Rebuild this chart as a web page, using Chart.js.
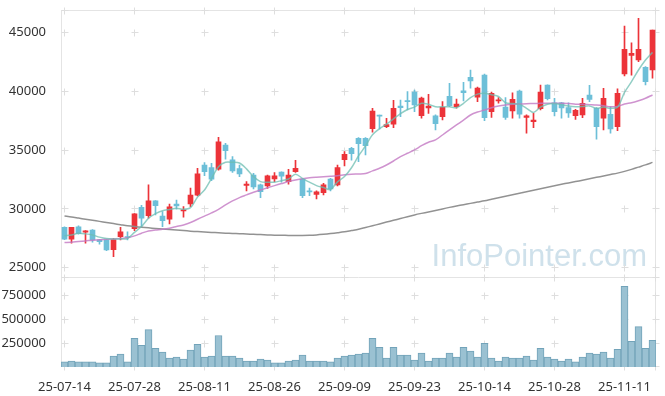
<!DOCTYPE html>
<html>
<head>
<meta charset="utf-8">
<script src="https://cdn.jsdelivr.net/npm/chart.js@4"></script>
<style>
  html, body { margin: 0; padding: 0; background: #fff; }
</style>
</head>
<body>
<canvas id="chart" width="665" height="396"></canvas>
<script>
// Daily candles with 5/20/120-day moving averages and volume underneath.

const dates = [
  "25-07-14","25-07-15","25-07-16","25-07-17","25-07-18","25-07-21","25-07-22","25-07-23","25-07-24","25-07-25",
  "25-07-28","25-07-29","25-07-30","25-07-31","25-08-01","25-08-04","25-08-05","25-08-06","25-08-07","25-08-08",
  "25-08-11","25-08-12","25-08-13","25-08-14","25-08-18","25-08-19","25-08-20","25-08-21","25-08-22","25-08-25",
  "25-08-26","25-08-27","25-08-28","25-08-29","25-09-01","25-09-02","25-09-03","25-09-04","25-09-05","25-09-08",
  "25-09-09","25-09-10","25-09-11","25-09-12","25-09-15","25-09-16","25-09-17","25-09-18","25-09-19","25-09-22",
  "25-09-23","25-09-24","25-09-25","25-09-26","25-09-29","25-09-30","25-10-01","25-10-02","25-10-10","25-10-13",
  "25-10-14","25-10-15","25-10-16","25-10-17","25-10-20","25-10-21","25-10-22","25-10-23","25-10-24","25-10-27",
  "25-10-28","25-10-29","25-10-30","25-10-31","25-11-03","25-11-04","25-11-05","25-11-06","25-11-07","25-11-10",
  "25-11-11","25-11-12","25-11-13","25-11-14","25-11-17"
];

const opens = [
  28440,27420,28470,28020,28210,27370,27370,26540,27650,27620,
  28330,30140,29430,30680,29400,29130,30420,29830,30420,31170,
  33730,33510,33370,35430,34160,33420,32000,32880,32040,31960,
  32540,33120,32320,33170,32540,31500,31220,31370,32540,32040,
  34180,35150,36000,36000,36820,37950,36990,37190,38740,39180,
  39930,37920,38570,37900,37830,39570,38680,40040,41170,39500,
  41370,38260,39180,38660,38320,40020,37780,37410,38510,40530,
  39020,39020,38600,37920,37980,39680,38550,37700,38040,36990,
  41460,43050,42650,42030,41800
];
const highs = [
  28480,28440,28560,28160,28250,27400,27400,27510,28440,28050,
  29600,30310,32040,30700,29770,30420,30760,30200,31760,33450,
  33930,33880,36090,35570,34440,33730,32320,33030,32100,32880,
  33080,33150,33370,34130,32600,31760,31530,32180,32600,33730,
  34860,35240,36050,36050,38550,37980,37700,39230,39250,39960,
  40100,39500,39740,38000,39110,40670,39340,40760,41800,40350,
  41460,39930,39450,39450,39870,40100,38000,38120,40530,40550,
  39400,39050,39020,38450,39400,40500,38600,40250,38680,40210,
  45530,44120,46190,42100,45200
];
const lows = [
  27380,27090,27850,27090,27170,27000,26460,25950,27370,27370,
  28160,28500,29210,29490,28500,28720,29970,29290,30200,31100,
  32820,32400,33300,34220,33100,32740,31530,31700,30960,31750,
  32320,32270,32100,33100,30960,31130,30850,31190,31530,31950,
  33650,34130,34010,34580,36510,36790,36900,36900,37830,38400,
  38260,37700,38120,36710,37550,38680,38550,39170,40250,39110,
  37500,37780,38990,37610,37700,37700,36430,36900,38400,39250,
  37890,37700,37780,37610,37750,39110,35920,36710,36430,36650,
  41290,41370,42500,40530,41100
];
const closes = [
  27420,28440,27900,28130,27370,27220,26520,27390,28050,27570,
  29580,29210,30680,30280,29000,30170,30250,29870,31170,32970,
  33170,32520,35690,34950,33220,32970,32110,31870,31470,32800,
  32800,32780,32880,33450,31130,31450,31440,32040,31700,33510,
  34640,34690,35540,35370,38320,37880,37160,38550,38600,39120,
  38830,39420,38740,37240,38630,38770,38910,39870,40870,40270,
  37750,39820,39260,37780,39310,38040,37900,37550,39930,39360,
  38260,38570,38150,38380,38970,39310,36990,39400,36790,39820,
  43560,43220,43560,40810,45200
];

// moving averages
const ma5 = [
  27710,27790,27930,27880,27790,27600,27480,27450,27450,27480,
  28000,28500,29200,29600,29850,29950,30060,29970,30110,31000,
  31610,32600,33590,33960,33960,33900,33400,32740,32320,32270,
  32270,32400,32540,32940,32600,32270,31980,31810,31650,32300,
  32750,33500,34500,35350,36300,36800,37200,37650,38100,38450,
  38650,38980,38890,38680,38680,38680,38600,38970,39450,39750,
  39820,39700,39550,39020,38950,38900,38550,38200,38650,38900,
  38950,38850,38740,38680,38700,38750,38550,38650,38550,38630,
  39900,40810,41800,42650,43300
];
const ma20 = [
  27140,27170,27230,27280,27340,27370,27420,27450,27480,27540,
  27710,27930,28130,28210,28270,28360,28500,28640,28840,29120,
  29390,29660,29960,30340,30680,30960,31190,31420,31600,31800,
  31980,32150,32320,32450,32560,32640,32690,32730,32770,32820,
  32900,32950,32970,33000,33230,33450,33730,34070,34440,34730,
  35010,35370,35660,35860,36280,36710,37130,37550,37980,38230,
  38400,38600,38740,38830,38890,38910,38940,38950,38970,38970,
  38970,38970,38950,38900,38890,38860,38830,38770,38680,38700,
  38910,39020,39190,39400,39680
];
const ma120 = [
  29400,29320,29220,29120,29030,28940,28840,28750,28660,28570,
  28500,28440,28390,28340,28290,28240,28200,28160,28110,28070,
  28040,28000,27970,27940,27920,27890,27870,27840,27820,27790,
  27770,27760,27750,27750,27750,27760,27790,27840,27900,27970,
  28050,28160,28270,28420,28570,28720,28880,29030,29180,29340,
  29490,29620,29740,29870,30000,30130,30250,30360,30470,30580,
  30690,30820,30950,31080,31200,31330,31460,31590,31710,31840,
  31970,32090,32210,32320,32440,32560,32680,32800,32920,33040,
  33190,33360,33550,33740,33950
];

const volumes = [
  52700,62900,52700,52700,52700,42500,42500,113900,134300,52700,
  297600,226200,389400,195600,154700,93500,103700,83300,175200,236400,
  103700,113900,328200,113900,113900,93500,62900,62900,83300,73100,
  42500,42500,62900,73100,124100,62900,62900,62900,52700,93500,
  113900,124100,134300,144500,297600,205800,93500,205800,124100,124100,
  73100,144500,62900,93500,93500,144500,103700,205800,164900,103700,
  246600,93500,62900,103700,93500,93500,113900,73100,195600,103700,
  83300,62900,83300,52700,103700,144500,134300,154700,93500,185400,
  841700,267000,420000,195600,277200
];

const xTickLabels = ["25-07-14","25-07-28","25-08-11","25-08-26","25-09-09","25-09-23","25-10-14","25-10-28","25-11-11"];
const priceTicks = [25000, 30000, 35000, 40000, 45000];
const volumeTicks = [250000, 500000, 750000];

const UP = "#ec3339";
const DOWN = "#6dbfd8";
const candleColors = opens.map((o, i) => (closes[i] >= o ? UP : DOWN));

Chart.defaults.font.family = '"Noto Sans", sans-serif';
Chart.defaults.color = "#333";

// faint "+" marks at tick crossings, panel frame and watermark
const decor = {
  id: "decor",
  beforeDatasetsDraw(chart) {
    const { ctx, chartArea: a, scales } = chart;
    const px = (v) => Math.round(v - 0.5) + 0.5;
    ctx.save();

    ctx.font = '31px "Liberation Sans", sans-serif';
    ctx.fillStyle = "rgba(160,195,215,0.5)";
    ctx.textAlign = "right";
    ctx.textBaseline = "alphabetic";
    ctx.fillText("InfoPointer.com", 647, 266);

    ctx.strokeStyle = "#e4e4e4";
    ctx.lineWidth = 1;
    const divider = px(scales.yv.top);
    ctx.strokeRect(px(a.left), px(a.top), px(a.right) - px(a.left) - 1, px(a.bottom) - px(a.top) - 1);
    ctx.beginPath();
    ctx.moveTo(a.left, divider);
    ctx.lineTo(a.right, divider);
    ctx.stroke();

    const xs = scales.x.ticks.map((t) => px(scales.x.getPixelForValue(t.value)));
    const rows = [
      ...priceTicks.map((v) => scales.y.getPixelForValue(v)),
      ...volumeTicks.map((v) => scales.yv.getPixelForValue(v)),
      a.top, scales.yv.top, a.bottom - 1,
    ].map(px);
    ctx.strokeStyle = "#dedede";
    ctx.beginPath();
    xs.concat([px(a.right) - 1]).forEach((x) => rows.forEach((y) => {
      ctx.moveTo(x - 3, y); ctx.lineTo(x + 4, y);
      ctx.moveTo(x, y - 3); ctx.lineTo(x, y + 4);
    }));
    ctx.stroke();
    ctx.restore();
  },
};

const yAxis = (extra) => Object.assign({
  type: "linear",
  position: "left",
  stack: "panes",
  grid: { display: false },
  border: { display: false },
  ticks: { padding: 7, font: { size: 13 }, callback: (v) => String(v) },
  afterFit: (s) => { s.width = 61; s.paddingTop = 0; s.paddingBottom = 0; },
}, extra);

new Chart(document.getElementById("chart"), {
  data: {
    labels: dates,
    datasets: [
      { type: "line", data: ma5, yAxisID: "y", borderColor: "rgba(110,190,178,0.75)", borderWidth: 1.5, pointRadius: 0, tension: 0.3, order: 1 },
      { type: "line", data: ma20, yAxisID: "y", borderColor: "rgba(195,120,195,0.8)", borderWidth: 1.5, pointRadius: 0, tension: 0.3, order: 1 },
      { type: "line", data: ma120, yAxisID: "y", borderColor: "rgba(140,140,140,0.95)", borderWidth: 1.5, pointRadius: 0, tension: 0.3, order: 1 },
      { type: "bar", data: opens.map((o, i) => [o, closes[i]]), yAxisID: "y", backgroundColor: candleColors, barThickness: 5, minBarLength: 1, grouped: false, order: 2 },
      { type: "bar", data: lows.map((l, i) => [l, highs[i]]), yAxisID: "y", backgroundColor: candleColors, barThickness: 1, grouped: false, order: 3 },
      { type: "bar", data: volumes, yAxisID: "yv", backgroundColor: "#9ac1d2", borderColor: "#72a3b9", borderWidth: 1,
        barPercentage: 1, categoryPercentage: 1, grouped: false, order: 4 },
    ],
  },
  options: {
    responsive: false,
    animation: false,
    layout: { padding: { top: 10, right: 9, bottom: 0, left: 0 } },
    plugins: { legend: { display: false }, tooltip: { enabled: false } },
    scales: {
      x: {
        type: "category",
        offset: true,
        grid: { display: false },
        border: { display: false },
        ticks: { padding: 4, font: { size: 13 }, maxRotation: 0, autoSkip: false },
        afterBuildTicks: (s) => { s.ticks = xTickLabels.map((l) => ({ value: dates.indexOf(l) })); },
        afterFit: (s) => { s.height = 29; s.paddingLeft = 0; s.paddingRight = 0; },
      },
      yv: yAxis({
        stackWeight: 1,
        min: 0,
        max: 930000,
        afterBuildTicks: (s) => { s.ticks = volumeTicks.map((v) => ({ value: v })); },
      }),
      y: yAxis({
        stackWeight: 3,
        min: 24150,
        max: 46900,
        afterBuildTicks: (s) => { s.ticks = priceTicks.map((v) => ({ value: v })); },
      }),
    },
  },
  plugins: [decor],
});
</script>
</body>
</html>
